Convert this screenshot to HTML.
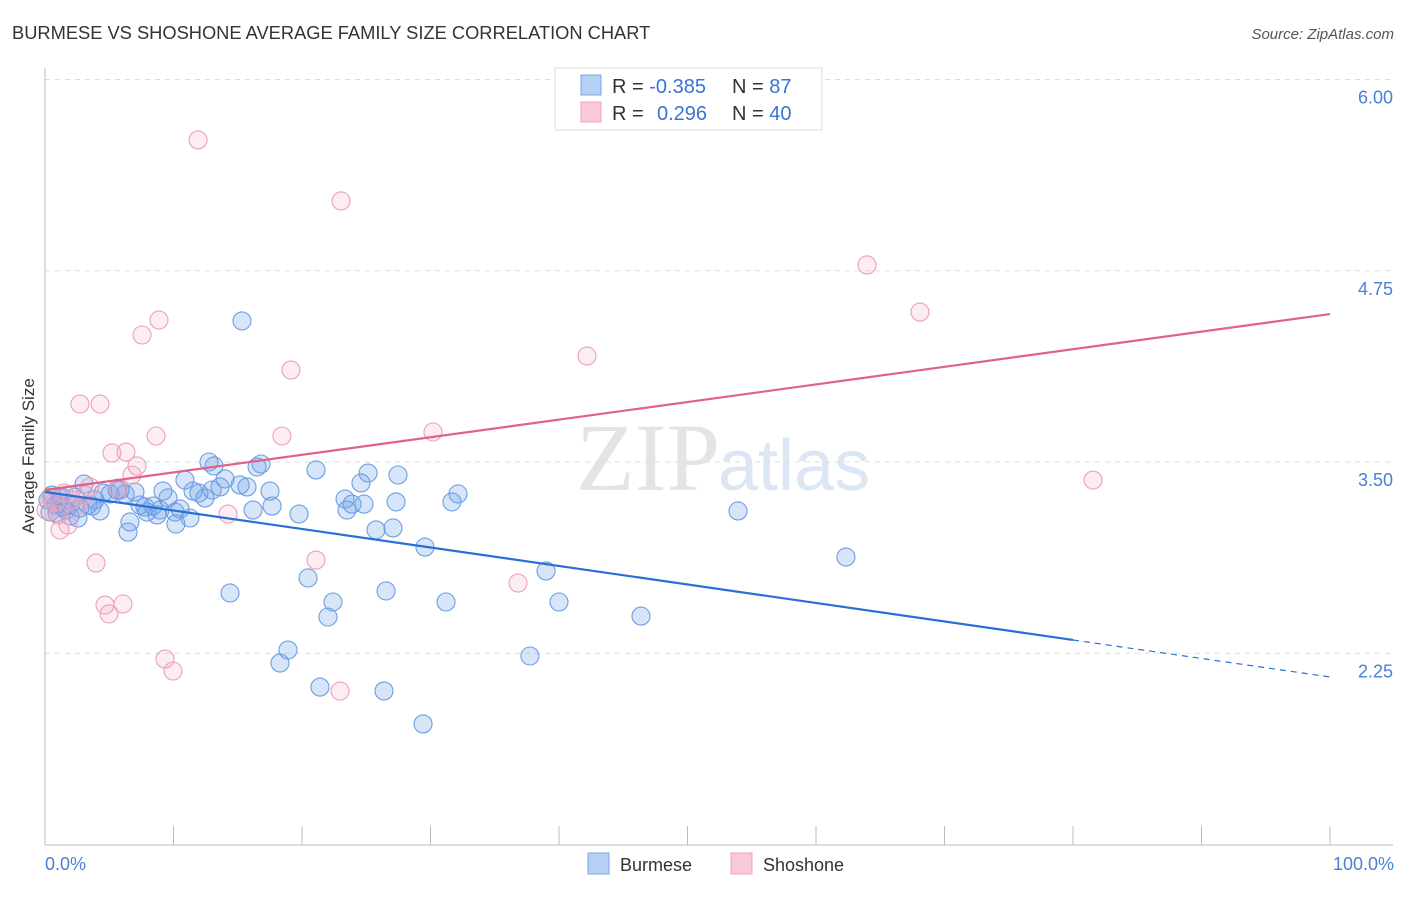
<!DOCTYPE html>
<html><head><meta charset="utf-8"><style>
body{margin:0;background:#fff;font-family:"Liberation Sans",sans-serif}
</style></head><body>
<svg id="chart" width="1406" height="892" xmlns="http://www.w3.org/2000/svg" font-family="Liberation Sans, sans-serif">
<text x="12" y="39" font-size="18.3" fill="#333">BURMESE VS SHOSHONE AVERAGE FAMILY SIZE CORRELATION CHART</text>
<text x="1394" y="39" font-size="15" fill="#555" text-anchor="end" font-style="italic">Source: ZipAtlas.com</text>
<text x="720" y="490" font-size="96" fill="#e4e4e4" text-anchor="end" font-family="Liberation Serif, serif">ZIP</text>
<text x="718" y="490" font-size="72" fill="#dce6f4">atlas</text>
<g id="grid"></g><g id="axes"></g><g id="pts"></g><g id="lines"></g>
<text transform="translate(34,456) rotate(-90)" font-size="17" fill="#333" text-anchor="middle">Average Family Size</text>
<text x="45" y="870" font-size="18" fill="#4a7fd6">0.0%</text>
<text x="1394" y="870" font-size="18" fill="#4a7fd6" text-anchor="end">100.0%</text>
<g>
<rect x="555" y="68" width="267" height="62" fill="#fff" stroke="#ddd"/>
<rect x="581" y="75" width="20" height="20" fill="#b5cff5" stroke="#7ca6e6"/>
<rect x="581" y="102" width="20" height="20" fill="#fac8d8" stroke="#eea3bd"/>
<text x="612" y="93" font-size="20" fill="#333">R = <tspan fill="#3b73d4">-0.385</tspan></text>
<text x="732" y="93" font-size="20" fill="#333">N = <tspan fill="#3b73d4"> 87</tspan></text>
<text x="612" y="120" font-size="20" fill="#333">R = <tspan fill="#3b73d4" x="657">0.296</tspan></text>
<text x="732" y="120" font-size="20" fill="#333">N = <tspan fill="#3b73d4">40</tspan></text>
</g>
<g>
<rect x="588" y="853" width="21" height="21" fill="#b5cff5" stroke="#7ca6e6"/>
<text x="620" y="871" font-size="18" fill="#333">Burmese</text>
<rect x="731" y="853" width="21" height="21" fill="#fac8d8" stroke="#eea3bd"/>
<text x="763" y="871" font-size="18" fill="#333">Shoshone</text>
</g>
</svg>
<script>
const yTicks=[6.00,4.75,3.50,2.25];
const yTickLabels=["6.00","4.75","3.50","2.25"];
const burmesePx=[[242,321],[209,462],[214,466],[261,464],[257,467],[316,470],[368,473],[398,475],[185,480],[225,479],[240,485],[220,487],[247,487],[270,491],[193,491],[199,493],[205,498],[163,491],[168,498],[84,484],[103,493],[110,494],[117,490],[125,494],[345,499],[352,504],[364,504],[396,502],[452,502],[458,494],[361,483],[145,507],[153,506],[160,510],[147,512],[157,515],[175,512],[180,509],[190,518],[176,524],[130,522],[128,532],[92,506],[100,511],[88,505],[70,505],[63,507],[56,505],[50,512],[57,513],[48,500],[60,498],[78,518],[70,516],[253,510],[272,506],[299,514],[347,510],[376,530],[393,528],[425,547],[546,571],[738,511],[846,557],[308,578],[230,593],[386,591],[333,602],[446,602],[559,602],[328,617],[641,616],[288,650],[280,663],[530,656],[320,687],[384,691],[423,724],[62,497],[75,497],[120,490],[135,492],[80,508],[52,495],[66,510],[95,500],[140,505],[212,490]];
const shoshonePx=[[198,140],[341,201],[867,265],[920,312],[159,320],[142,335],[587,356],[291,370],[80,404],[100,404],[433,432],[156,436],[282,436],[112,453],[126,452],[137,466],[132,475],[1093,480],[228,514],[316,560],[96,563],[518,583],[105,605],[123,604],[109,614],[165,659],[173,671],[340,691],[60,530],[68,525],[64,493],[90,487],[118,488],[50,497],[55,502],[72,500],[85,495],[46,510],[58,515],[78,505]];
const burmeseX=burmesePx.map(p=>+((p[0]-45)/12.85).toFixed(2));
const burmeseY=burmesePx.map(p=>+(3.5-(p[1]-462)/153).toFixed(3));
const shoshoneX=shoshonePx.map(p=>+((p[0]-45)/12.85).toFixed(2));
const shoshoneY=shoshonePx.map(p=>+(3.5-(p[1]-462)/153).toFixed(3));
const blueTrend=[3.304,2.095];
const pinkTrend=[3.317,4.467];
const NS="http://www.w3.org/2000/svg";
const xs=v=>45+v*12.85, ys=v=>462-(v-3.5)*153;
function mk(t,a,parent){const e=document.createElementNS(NS,t);for(const k in a)e.setAttribute(k,a[k]);document.getElementById(parent).appendChild(e);return e;}
yTicks.forEach((t,i)=>{
 const g=mk('line',{x1:45,x2:1393,y1:ys(t),y2:ys(t),stroke:'#ddd','stroke-dasharray':'5,5'},'grid');
 
 
 const l=mk('text',{x:1393,y:ys(t)+24,'font-size':18,fill:'#4a7fd6','text-anchor':'end'},'grid');
 l.textContent=yTickLabels[i];
 
 
});
mk('line',{x1:45,x2:45,y1:68,y2:845,stroke:'#bbb'},'axes');
mk('line',{x1:45,x2:1393,y1:845,y2:845,stroke:'#bbb'},'axes');
for(let i=0;i<=10;i++){const t=mk('line',{x1:xs(i*10),x2:xs(i*10),y1:826,y2:845,stroke:'#bbb'},'axes');
 
 }
burmeseX.forEach((x,i)=>{const c=mk('circle',{cx:xs(x),cy:ys(burmeseY[i]),r:9,fill:'rgba(110,160,235,0.28)',stroke:'#6d9ee3','stroke-width':1.1},'pts');
 
 });
shoshoneX.forEach((x,i)=>{const c=mk('circle',{cx:xs(x),cy:ys(shoshoneY[i]),r:9,fill:'rgba(245,160,190,0.2)',stroke:'#eba0ba','stroke-width':1.1},'pts');
 
 });
const bAt=x=>blueTrend[0]+(blueTrend[1]-blueTrend[0])*x/100;
let l1=mk('line',{x1:xs(0),y1:ys(bAt(0)),x2:xs(80),y2:ys(bAt(80)),stroke:'#2a6fd6','stroke-width':2.2},'lines');


let l2=mk('line',{x1:xs(80),y1:ys(bAt(80)),x2:xs(100),y2:ys(bAt(100)),stroke:'#2a6fd6','stroke-width':1.2,'stroke-dasharray':'6,5'},'lines');


let l3=mk('line',{x1:xs(0),y1:ys(pinkTrend[0]),x2:xs(100),y2:ys(pinkTrend[1]),stroke:'#e0628c','stroke-width':2.2},'lines');


</script>
</body></html>
